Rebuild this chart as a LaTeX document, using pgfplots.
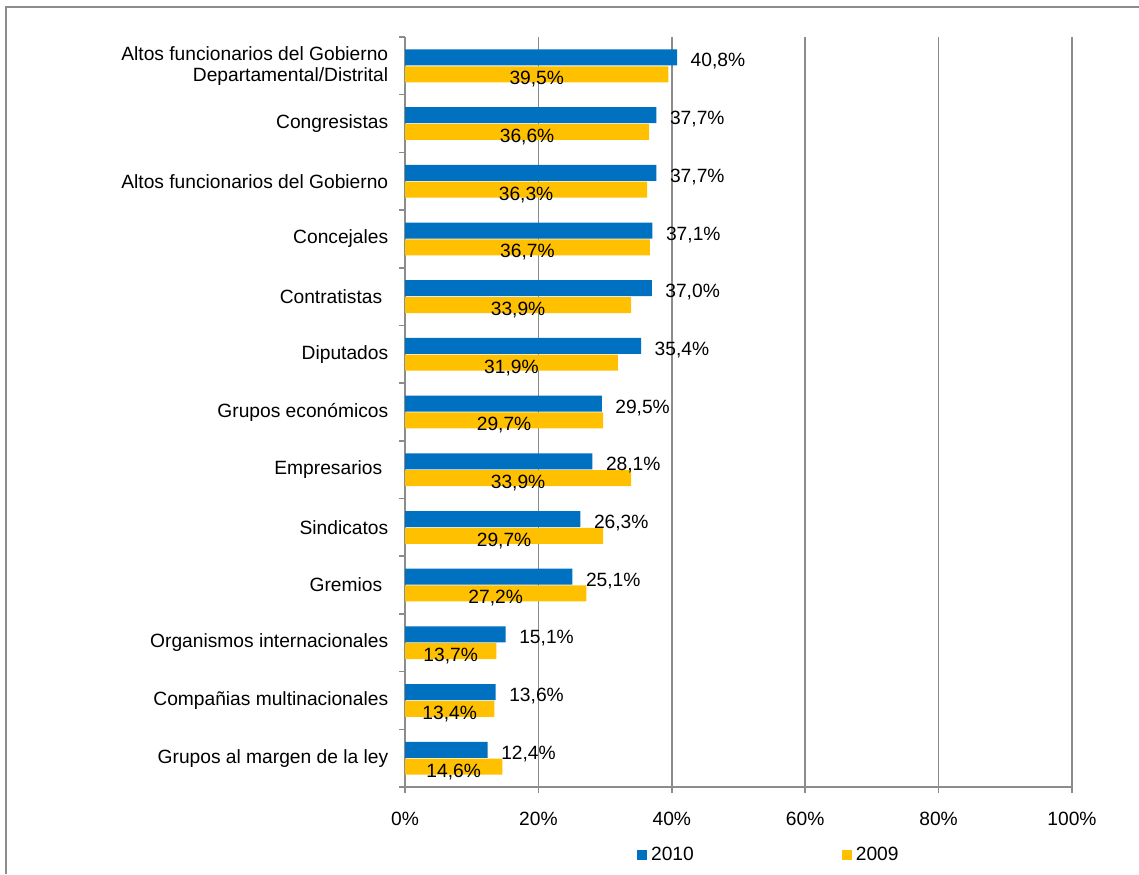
\documentclass[border=0pt]{standalone}
\usepackage{pgfplots}
\pgfplotsset{compat=1.18}
\usepackage{fontspec}
\setmainfont{Liberation Sans}
\definecolor{cBlue}{HTML}{0070C0}
\definecolor{cYellow}{HTML}{FFC000}
\definecolor{cGrid}{HTML}{8C8C8C}

\begin{document}
\fontsize{9.6}{10.6}\selectfont
\begin{tikzpicture}
\path[use as bounding box] (0,0) rectangle (569.5pt,437pt);
\draw[cGrid, line width=0.8pt] (3pt,0) -- (3pt,433.5pt) -- (569.5pt,433.5pt);
\begin{axis}[
  at={(202.5pt,43.5pt)}, anchor=south west,
  scale only axis, width=333.5pt, height=375pt,
  xbar, bar width=8pt, clip=false,
  xmin=0, xmax=100, ymin=-0.5, ymax=12.5, y dir=reverse,
  axis lines=left, axis line style={cGrid, line width=0.75pt, -},
  xmajorgrids, major grid style={cGrid, line width=0.75pt},
  /pgf/number format/assume math mode=true,
  xtick={0,20,...,100}, xticklabel={\pgfmathprintnumber{\tick}\%},
  xticklabel style={yshift=-6pt},
  ytick={0,...,12},
  yticklabels={{Altos funcionarios del Gobierno\\Departamental/Distrital},Congresistas,Altos funcionarios del Gobierno,Concejales,Contratistas\hspace{3pt},Diputados,Grupos económicos,Empresarios\hspace{3pt},Sindicatos,Gremios\hspace{3pt},Organismos internacionales,Compañias multinacionales,Grupos al margen de la ley},
  yticklabel style={align=right, xshift=-2pt},
  minor ytick={-0.5,0.5,...,12.5},
  tick align=outside, major tick length=3pt, minor tick length=3pt,
  major y tick style={draw=none},
  tick style={cGrid, line width=0.75pt},
  legend style={at={(0.547,-0.091)}, anchor=center, draw=none, fill=none, legend columns=2,
    /tikz/every even column/.append style={column sep=72pt}},
  legend image code/.code={\fill[#1] (0pt,-2.5pt) rectangle (5pt,2.5pt);},
]
\addplot[fill=cBlue, draw=none, bar shift=4.2pt,
  nodes near coords={\pgfmathprintnumber[fixed,fixed zerofill,precision=1,use comma]{\pgfplotspointmeta}\%},
  nodes near coords style={anchor=west, xshift=3.4pt, yshift=-2pt, text=black}]
  coordinates {(40.8,0)(37.7,1)(37.7,2)(37.1,3)(37.0,4)(35.4,5)(29.5,6)(28.1,7)(26.3,8)(25.1,9)(15.1,10)(13.6,11)(12.4,12)};
\addplot[fill=cYellow, draw=none, bar shift=-4.2pt,
  visualization depends on={x \as \rawx},
  nodes near coords={\pgfmathprintnumber[fixed,fixed zerofill,precision=1,use comma]{\pgfplotspointmeta}\%},
  nodes near coords style={anchor=center, xshift=-\rawx*1.6675pt, yshift=-2.5pt, text=black}]
  coordinates {(39.5,0)(36.6,1)(36.3,2)(36.7,3)(33.9,4)(31.9,5)(29.7,6)(33.9,7)(29.7,8)(27.2,9)(13.7,10)(13.4,11)(14.6,12)};
\legend{2010,2009}
\end{axis}
\end{tikzpicture}
\end{document}
